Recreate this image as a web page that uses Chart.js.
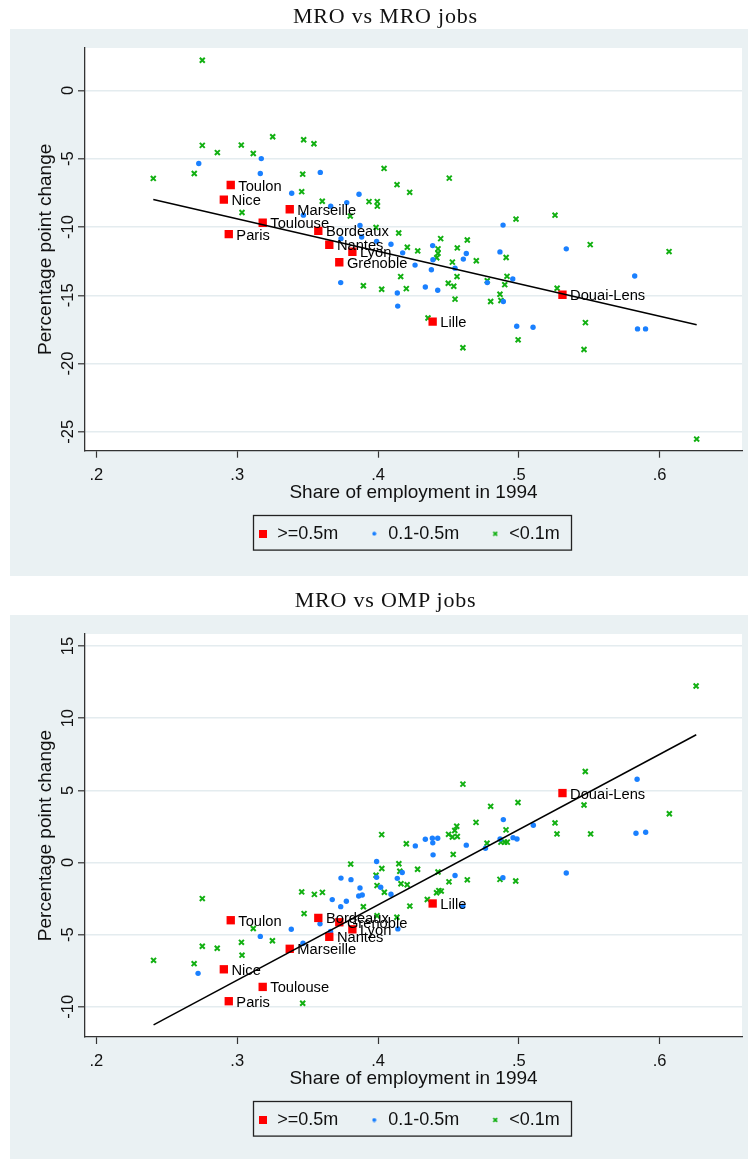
<!DOCTYPE html>
<html>
<head>
<meta charset="utf-8">
<script src="https://cdn.jsdelivr.net/npm/chart.js@4.4.1/dist/chart.umd.min.js"></script>
<style>
  html, body { margin: 0; padding: 0; background: #fff; }
  #page { position: relative; width: 748px; height: 1159px; overflow: hidden; }
  canvas { position: absolute; left: 0; }
  .title {
    position: absolute; left: 0; width: 771px; text-align: center;
    font-family: "Liberation Serif", "Times New Roman", serif;
    font-size: 22px; line-height: 22px; letter-spacing: 0.8px;
    color: #111; white-space: nowrap; z-index: 2;
  }
</style>
</head>
<body>
<div id="page">
  <canvas id="mroChart" width="748" height="580" style="top:0px"></canvas>
  <canvas id="ompChart" width="748" height="579" style="top:580px"></canvas>
  <div class="title" style="top:5px">MRO vs MRO jobs</div>
  <div class="title" style="top:589px">MRO vs OMP jobs</div>
</div>
<script>
// ---- Large employment areas (>= 0.5m) ----
const cityNames = ['Paris', 'Lyon', 'Marseille', 'Toulouse', 'Nice', 'Bordeaux', 'Nantes', 'Toulon', 'Grenoble', 'Lille', 'Douai-Lens'];
const cityShare = [0.2940, 0.3818, 0.3373, 0.3181, 0.2905, 0.3576, 0.3654, 0.2954, 0.3725, 0.4388, 0.5310];
const cityMroChange = [-10.52, -11.81, -8.70, -9.69, -7.99, -10.28, -11.30, -6.92, -12.58, -16.93, -14.96];
const cityOmpChange = [-9.61, -4.63, -5.98, -8.62, -7.40, -3.84, -5.15, -4.00, -4.14, -2.84, 4.81];

// ---- MRO vs MRO: areas of 0.1-0.5m ----
const mroMidShare = [0.2727, 0.3171, 0.3164, 0.3590, 0.3387, 0.3865, 0.3778, 0.3664, 0.3470, 0.3872,
  0.3737, 0.3884, 0.3990, 0.3735, 0.4888, 0.5337, 0.4092, 0.4175, 0.4388, 0.4390,
  0.4627, 0.4606, 0.4866, 0.4263, 0.4379, 0.4547, 0.4957, 0.4776, 0.4336, 0.4424,
  0.4137, 0.4890, 0.4140, 0.4985, 0.5101, 0.5823, 0.5843, 0.5900];
const mroMidChange = [-5.35, -4.99, -6.08, -6.00, -7.53, -7.60, -8.21, -8.47, -9.13, -9.88,
  -10.85, -10.73, -11.05, -14.07, -9.86, -11.60, -11.26, -11.89, -11.36, -12.40,
  -11.94, -12.35, -11.82, -12.79, -13.13, -13.01, -13.81, -14.07, -14.39, -14.63,
  -14.83, -15.45, -15.79, -17.27, -17.34, -13.59, -17.46, -17.46];

// ---- MRO vs MRO: areas under 0.1m ----
const mroSmallShare = [0.2752, 0.2752, 0.2859, 0.3029, 0.3114, 0.3252, 0.3472, 0.3545, 0.2695, 0.2404,
  0.3465, 0.3458, 0.3034, 0.3604, 0.3803, 0.3936, 0.3995, 0.3995, 0.3986, 0.3896,
  0.4043, 0.4135, 0.4225, 0.4506, 0.4980, 0.5257, 0.4147, 0.4445, 0.4634, 0.5507,
  0.4208, 0.4282, 0.4426, 0.4426, 0.4417, 0.4563, 0.4910, 0.4698, 0.4528, 0.4161,
  0.4561, 0.4916, 0.4776, 0.4026, 0.4201, 0.4499, 0.4538, 0.4900, 0.4866, 0.5272,
  0.4547, 0.4800, 0.4873, 0.4355, 0.5473, 0.4995, 0.4603, 0.5463, 0.6263, 0.6067];
const mroSmallChange = [2.21, -4.02, -4.55, -4.00, -4.62, -3.39, -3.61, -3.90, -6.08, -6.44,
  -6.13, -7.41, -8.94, -8.11, -9.20, -8.14, -8.14, -8.47, -10.03, -14.30,
  -5.71, -6.90, -7.46, -6.42, -9.42, -9.13, -10.44, -10.85, -10.95, -11.29,
  -11.48, -11.75, -11.60, -11.92, -12.25, -11.53, -12.23, -12.47, -12.57, -13.63,
  -13.63, -13.61, -13.93, -14.56, -14.51, -14.12, -14.34, -14.22, -14.92, -14.48,
  -15.28, -15.45, -15.38, -16.66, -17.00, -18.26, -18.84, -18.97, -25.53, -11.80];

// ---- MRO vs OMP: areas of 0.1-0.5m ----
const ompMidShare = [0.4336, 0.4386, 0.4424, 0.4389, 0.4265, 0.4627, 0.4391, 0.3990, 0.4172, 0.4547,
  0.3737, 0.3808, 0.3990, 0.4137, 0.3872, 0.4019, 0.3863, 0.3888, 0.4092, 0.3675,
  0.3775, 0.3735, 0.4141, 0.3588, 0.3384, 0.3164, 0.3467, 0.3663, 0.2722, 0.4887,
  0.5337, 0.4602, 0.4890, 0.5103, 0.4867, 0.4959, 0.4987, 0.4763, 0.5840, 0.5832, 0.5901];
const ompMidChange = [1.61, 1.68, 1.68, 1.36, 1.15, 1.20, 0.53, 0.07, -0.69, -0.90,
  -1.08, -1.19, -1.03, -1.10, -1.77, -1.72, -2.32, -2.25, -2.20, -2.57,
  -2.69, -3.06, -4.60, -4.25, -4.62, -5.12, -5.59, -4.78, -7.68, -1.05,
  -0.73, -3.03, 2.97, 2.58, 1.63, 1.72, 1.63, 0.99, 5.77, 2.03, 2.10];

// ---- MRO vs OMP: areas under 0.1m ----
const ompSmallShare = [0.2406, 0.2694, 0.2752, 0.2752, 0.2858, 0.3030, 0.3034, 0.3114, 0.3250, 0.3465,
  0.3475, 0.3458, 0.3548, 0.3605, 0.3806, 0.3896, 0.3986, 0.3993, 0.4027, 0.4045,
  0.4148, 0.4155, 0.4163, 0.4207, 0.4226, 0.4281, 0.4350, 0.4426, 0.4416, 0.4432,
  0.4449, 0.4504, 0.4634, 0.4866, 0.4978, 0.3993, 0.4134, 0.4603, 0.4696, 0.4559,
  0.4545, 0.4528, 0.4563, 0.4501, 0.4026, 0.4201, 0.4534, 0.6259, 0.5472, 0.5463,
  0.6069, 0.4994, 0.4800, 0.5257, 0.5271, 0.5510, 0.4909, 0.4774, 0.4873, 0.4899, 0.4918];
const ompSmallChange = [-6.78, -7.01, -2.50, -5.80, -5.94, -5.53, -6.42, -4.57, -5.42, -9.75,
  -3.54, -2.04, -2.21, -2.07, -0.11, -3.07, -0.88, -1.60, -0.42, -2.06,
  -0.09, -0.61, -1.47, -1.54, -3.02, -0.47, -2.56, -0.66, -2.10, -1.95,
  -1.98, -1.34, -1.20, -1.17, -1.28, -3.69, -3.79, 5.43, 2.78, 2.51,
  2.22, 1.77, 1.80, 1.95, 1.93, 1.30, 0.56, 12.23, 6.30, 3.98,
  3.38, 4.16, 3.89, 2.74, 1.98, 1.98, 2.26, 1.34, 1.41, 1.41, 1.41];

// ---- Linear fit endpoints ----
const mroFitShare = [0.2404, 0.6263];
const mroFitChange = [-7.99, -17.15];
const ompFitShare = [0.2406, 0.6260];
const ompFitChange = [-11.25, 8.85];

// ---- Axes ----
const shareTicks = [0.2, 0.3, 0.4, 0.5, 0.6];
const mroChangeTicks = [-25, -20, -15, -10, -5, 0];
const ompChangeTicks = [-10, -5, 0, 5, 10, 15];
const legendLabels = ['>=0.5m', '0.1-0.5m', '<0.1m'];

// ---- Style ----
const SANS = "'Liberation Sans', Arial, Helvetica, sans-serif";
const RED = '#ff0000';
const BLUE = '#1a80ff';
const GREEN = '#12b012';
const FRAME_BG = '#eaf1f3';
const GRID = '#e4ecef';
const INK = '#111';
const AXIS = '#333';

function pairs(xs, ys) { return xs.map((x, i) => ({ x: x, y: ys[i] })); }
function shareLabel(v) { return String(Math.round(v * 10) / 10).replace(/^0\./, '.'); }

// small marker images for the legend keys
function markerCanvas(w, h, draw) {
  const c = document.createElement('canvas');
  c.width = w; c.height = h;
  draw(c.getContext('2d'));
  return c;
}
const legendMarkers = [
  markerCanvas(8, 8, g => { g.fillStyle = RED; g.fillRect(0, 0, 8, 8); }),
  markerCanvas(5, 5, g => { g.fillStyle = BLUE; g.beginPath(); g.arc(2.5, 2.5, 2.0, 0, Math.PI * 2); g.fill(); }),
  markerCanvas(6, 6, g => {
    g.strokeStyle = GREEN; g.lineWidth = 1.6;
    g.beginPath(); g.moveTo(1.1, 1.1); g.lineTo(4.9, 4.9); g.moveTo(4.9, 1.1); g.lineTo(1.1, 4.9); g.stroke();
  })
];

function buildPanel(canvasId, p) {
  // grey frame behind the plot, white plot region
  const framePlugin = {
    id: 'frame',
    beforeDraw(chart) {
      const c = chart.ctx, a = chart.chartArea;
      c.save();
      c.fillStyle = FRAME_BG;
      c.fillRect(10, p.frameTop, chart.width - 10, p.frameBottom - p.frameTop);
      c.fillStyle = '#fff';
      c.fillRect(a.left, a.top, a.right - a.left, a.bottom - a.top);
      c.restore();
    }
  };
  // legend sits closer under the axis title, inside a rule box
  const legendBoxPlugin = {
    id: 'legendBox',
    afterLayout(chart) {
      const lg = chart.legend;
      const h = lg.height;
      lg.top = chart.chartArea.bottom + 43;
      lg.bottom = lg.top + h;
      lg.left -= 4.5;
      lg.right -= 4.5;
    },
    afterDraw(chart) {
      const hb = chart.legend.legendHitBoxes;
      if (!hb || !hb.length) return;
      const first = hb[0], last = hb[hb.length - 1];
      const cy = first.top + first.height / 2;
      const c = chart.ctx;
      c.save();
      c.strokeStyle = '#222';
      c.lineWidth = 1.3;
      const x0 = Math.round(first.left - 5) + 0.5;
      const x1 = Math.round(last.left + last.width + 11.6) + 0.5;
      c.strokeRect(x0, Math.round(cy - 19) + 0.5, x1 - x0, 34.6);
      c.restore();
    }
  };
  // names beside the large-area markers
  const cityLabelPlugin = {
    id: 'cityLabels',
    afterDatasetDraw(chart, args) {
      if (args.index !== 1) return;
      const c = chart.ctx;
      c.save();
      c.font = '14.7px ' + SANS;
      c.fillStyle = '#000';
      c.textAlign = 'left';
      c.textBaseline = 'middle';
      args.meta.data.forEach((pt, i) => {
        c.fillText(cityNames[i], pt.x + 7.6, pt.y + 1.5);
      });
      c.restore();
    }
  };

  return new Chart(document.getElementById(canvasId), {
    type: 'scatter',
    data: {
      datasets: [
        { label: 'Fitted values', type: 'line', data: pairs(p.fitX, p.fitY), borderColor: '#000',
          borderWidth: 1.5, pointRadius: 0, fill: false, order: 0 },
        { label: legendLabels[0], data: pairs(cityShare, p.bigY), pointStyle: 'rect', pointRadius: 5.9,
          backgroundColor: RED, borderWidth: 0, order: 1 },
        { label: legendLabels[1], data: pairs(p.midX, p.midY), pointStyle: 'circle', pointRadius: 2.7,
          backgroundColor: BLUE, borderWidth: 0, order: 2 },
        { label: legendLabels[2], data: pairs(p.smallX, p.smallY), pointStyle: 'crossRot', pointRadius: 3.5,
          borderColor: GREEN, backgroundColor: GREEN, borderWidth: 2.0, order: 3 }
      ]
    },
    options: {
      responsive: false,
      animation: false,
      events: [],
      layout: { padding: { left: 10, right: 6, top: p.padTop, bottom: p.padBottom } },
      scales: {
        x: {
          type: 'linear', min: 0.1919, max: 0.6585,
          afterBuildTicks: s => { s.ticks = shareTicks.map(v => ({ value: v })); },
          afterFit: s => { s.height = 56; },
          grid: { drawOnChartArea: false, drawTicks: true, tickLength: 7, tickColor: AXIS, tickWidth: 1.2 },
          border: { display: true, color: AXIS, width: 1.3 },
          ticks: { font: { family: SANS, size: 16.5 }, color: INK, padding: 7.6, maxRotation: 0, minRotation: 0,
                   callback: v => shareLabel(v) },
          title: { display: true, text: 'Share of employment in 1994', color: INK,
                   font: { family: SANS, size: 19 }, padding: { top: 0, bottom: 2.5 } }
        },
        y: {
          type: 'linear', min: p.yMin, max: p.yMax,
          afterBuildTicks: s => { s.ticks = p.yTicks.map(v => ({ value: v })); },
          afterFit: s => { s.width = 75; },
          grid: { color: GRID, lineWidth: 1.6, tickLength: 7, tickColor: AXIS, tickWidth: 1.2 },
          border: { display: true, color: AXIS, width: 1.3 },
          ticks: { font: { family: SANS, size: 16.5 }, color: INK, padding: -2.1, minRotation: 90, maxRotation: 90,
                   crossAlign: 'center', callback: v => String(v) },
          title: { display: true, text: 'Percentage point change', color: INK,
                   font: { family: SANS, size: 19 }, padding: { top: 24.4, bottom: 0 } }
        }
      },
      plugins: {
        tooltip: { enabled: false },
        title: { display: false },
        legend: {
          display: true, position: 'bottom', fullSize: false,
          labels: {
            usePointStyle: true, boxWidth: 10, padding: 31, color: INK,
            font: { family: SANS, size: 18 },
            filter: item => item.datasetIndex !== 0,
            generateLabels(chart) {
              const items = Chart.defaults.plugins.legend.labels.generateLabels(chart);
              items.forEach(it => {
                const k = it.datasetIndex - 1;
                if (k >= 0 && legendMarkers[k]) it.pointStyle = legendMarkers[k];
              });
              return items;
            }
          }
        }
      }
    },
    plugins: [framePlugin, legendBoxPlugin, cityLabelPlugin]
  });
}

buildPanel('mroChart', {
  fitX: mroFitShare, fitY: mroFitChange,
  bigY: cityMroChange,
  midX: mroMidShare, midY: mroMidChange,
  smallX: mroSmallShare, smallY: mroSmallChange,
  yMin: -26.38, yMax: 3.11, yTicks: mroChangeTicks,
  padTop: 48, padBottom: 14.3, frameTop: 29, frameBottom: 576
});

buildPanel('ompChart', {
  fitX: ompFitShare, fitY: ompFitChange,
  bigY: cityOmpChange,
  midX: ompMidShare, midY: ompMidChange,
  smallX: ompSmallShare, smallY: ompSmallChange,
  yMin: -12.09, yMax: 15.83, yTicks: ompChangeTicks,
  padTop: 54, padBottom: 7, frameTop: 35, frameBottom: 579
});
</script>
</body>
</html>
